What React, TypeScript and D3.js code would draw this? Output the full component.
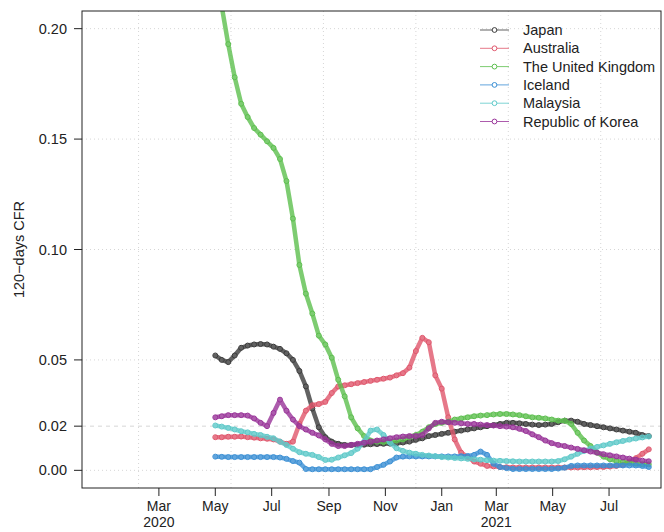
import * as d3 from 'd3';

// weekly readings, starting 1 May 2020
const START = new Date(2020, 4, 1);
const weeks = d3.range(68).map((i) => d3.timeDay.offset(START, 7 * i));

const japan = [
  0.052, 0.05, 0.049, 0.052, 0.0555, 0.0565, 0.057, 0.0572, 0.057, 0.056,
  0.055, 0.053, 0.05, 0.045, 0.038, 0.028, 0.0195, 0.015, 0.013, 0.012,
  0.0115, 0.0115, 0.0115, 0.0116, 0.0118, 0.0119, 0.012, 0.0121, 0.0122, 0.0126,
  0.013, 0.0138, 0.0145, 0.0155, 0.016, 0.0165, 0.017, 0.0175, 0.018, 0.0185,
  0.019, 0.0195, 0.02, 0.0205, 0.021, 0.0215, 0.0215, 0.0213, 0.021, 0.0207,
  0.0205, 0.0207, 0.021, 0.0218, 0.0225, 0.0225, 0.022, 0.021, 0.0205, 0.02,
  0.0195, 0.019, 0.0185, 0.018, 0.0175, 0.017, 0.016, 0.0155,
];
const australia = [
  0.015, 0.015, 0.0152, 0.0152, 0.0153, 0.015, 0.0148, 0.0145, 0.0143, 0.014,
  0.013, 0.012, 0.013, 0.021, 0.027, 0.0295, 0.03, 0.031, 0.035, 0.038,
  0.0385, 0.039, 0.0395, 0.04, 0.0405, 0.041, 0.0415, 0.042, 0.043, 0.044,
  0.0465, 0.054, 0.06, 0.058, 0.043, 0.037, 0.024, 0.014, 0.008, 0.006,
  0.004, 0.003, 0.002, 0.0018, 0.0015, 0.0014, 0.0013, 0.0013, 0.0013, 0.0013,
  0.0013, 0.0013, 0.0013, 0.0013, 0.0013, 0.0013, 0.0013, 0.0014, 0.0014, 0.0015,
  0.0015, 0.0017, 0.002, 0.0025, 0.004, 0.0055, 0.0075, 0.0095,
];
const unitedKingdom = [
  0.225, 0.21, 0.193, 0.178, 0.166, 0.16, 0.155, 0.152, 0.149, 0.146,
  0.141, 0.131, 0.114, 0.093, 0.08, 0.071, 0.061, 0.057, 0.051, 0.041,
  0.0335, 0.024, 0.019, 0.0155, 0.0135, 0.013, 0.0128, 0.013, 0.0135, 0.014,
  0.015, 0.016, 0.0175, 0.0195, 0.021, 0.0215, 0.022, 0.023, 0.0235, 0.024,
  0.0245, 0.0248, 0.025, 0.0253, 0.0255, 0.0255, 0.0253, 0.025, 0.0245, 0.024,
  0.0238, 0.0235, 0.023, 0.0225, 0.0225, 0.021, 0.017, 0.0135, 0.011, 0.008,
  0.0062, 0.005, 0.0042, 0.0038, 0.0033, 0.003, 0.0028, 0.0027,
];
const iceland = [
  0.0062, 0.0061, 0.006, 0.006, 0.006, 0.006, 0.006, 0.006, 0.006, 0.006,
  0.0058, 0.0052, 0.0042, 0.0035, 0.0006, 0.0005, 0.0005, 0.0005, 0.0005, 0.0005,
  0.0005, 0.0005, 0.0005, 0.0005, 0.0005, 0.0015, 0.0025, 0.004, 0.0058, 0.0062,
  0.0063, 0.0063, 0.0063, 0.0063, 0.0063, 0.0063, 0.0063, 0.0063, 0.0064, 0.0065,
  0.007, 0.0085, 0.007, 0.003, 0.0015, 0.001, 0.0006, 0.0006, 0.0006, 0.0006,
  0.0006, 0.0006, 0.0006, 0.0008, 0.0012, 0.002, 0.0022, 0.0022, 0.0022, 0.0022,
  0.0022, 0.0022, 0.0022, 0.0022, 0.0022, 0.0022, 0.002, 0.0015,
];
const malaysia = [
  0.0203, 0.0198, 0.0192, 0.0185, 0.0177, 0.0172, 0.0165, 0.016, 0.0152, 0.0145,
  0.013, 0.0115, 0.0098, 0.0082, 0.0075, 0.007, 0.006, 0.0047, 0.0048, 0.0058,
  0.0068, 0.0078, 0.0098, 0.013, 0.018, 0.0185, 0.016, 0.0125, 0.01, 0.0088,
  0.008, 0.0075, 0.007, 0.0067, 0.0064, 0.006, 0.0058, 0.0056, 0.0054, 0.0052,
  0.005, 0.0048, 0.0046, 0.0044, 0.0043, 0.0042, 0.0041, 0.004, 0.004, 0.004,
  0.004, 0.004, 0.004, 0.0042, 0.005, 0.0062, 0.0075, 0.0088, 0.0098, 0.0106,
  0.0113, 0.012, 0.0127, 0.0133, 0.0139, 0.0144, 0.0149, 0.0153,
];
const korea = [
  0.024, 0.0245, 0.025, 0.025, 0.025, 0.0248, 0.0235, 0.0215, 0.02, 0.026,
  0.032, 0.027, 0.023, 0.02, 0.0185, 0.017, 0.0158, 0.014, 0.012, 0.011,
  0.011, 0.0115, 0.012, 0.0125, 0.013, 0.0135, 0.014, 0.0145, 0.015, 0.0153,
  0.0155, 0.0155, 0.016, 0.019, 0.0215, 0.022, 0.0218, 0.0215, 0.0213, 0.021,
  0.021, 0.0207, 0.0205, 0.0203, 0.02, 0.0198, 0.0195, 0.0188, 0.0178, 0.0163,
  0.015, 0.0135, 0.0123, 0.0115, 0.011, 0.0103, 0.0097, 0.0091, 0.0085, 0.008,
  0.0073, 0.0068, 0.0063, 0.0058, 0.0053, 0.0048, 0.0044, 0.0041,
];

const countries = ['Japan', 'Australia', 'The United Kingdom', 'Iceland', 'Malaysia', 'Republic of Korea'];
const seriesValues = [japan, australia, unitedKingdom, iceland, malaysia, korea];
const colors = ['#3b3b3b', '#e0566c', '#5cbf4e', '#3a8fd4', '#5ec9c9', '#993399'];

const xTickDates = [
  new Date(2020, 2, 1), new Date(2020, 4, 1), new Date(2020, 6, 1), new Date(2020, 8, 1),
  new Date(2020, 10, 1), new Date(2021, 0, 1), new Date(2021, 2, 1), new Date(2021, 4, 1),
  new Date(2021, 6, 1),
];
const xTickLabels = [['Mar', '2020'], ['May'], ['Jul'], ['Sep'], ['Nov'], ['Jan'], ['Mar', '2021'], ['May'], ['Jul']];
const yTicks = [0, 0.02, 0.05, 0.1, 0.15, 0.2];
const yTickLabels = ['0.00', '0.02', '0.05', '0.10', '0.15', '0.20'];
const yGrid = [0, 0.05, 0.1, 0.15, 0.2];
// R's grid() falls on pretty day numbers since 1970
const xGridDays = [18300, 18400, 18500, 18600, 18700, 18800];

const W = 664;
const H = 532;
const left = 82;
const right = 661;
const top = 11;
const bottom = 488;
const font = '"Liberation Sans", Arial, Helvetica, sans-serif';

export default function App() {
  const lo = +new Date(2020, 0, 1);
  const hi = +new Date(2021, 7, 3);
  const xPad = (hi - lo) * 0.04;
  const x = d3.scaleTime().domain([new Date(lo - xPad), new Date(hi + xPad)]).range([left, right]);
  const y = d3.scaleLinear().domain([-0.008, 0.208]).range([bottom, top]);

  const line = d3
    .line<number>()
    .x((_, i) => x(weeks[i]))
    .y((v) => y(v));

  return (
    <svg width={W} height={H} style={{ position: 'absolute', left: 0, top: 0, background: '#fff' }} fontFamily={font}>
      <defs>
        <clipPath id="plot">
          <rect x={left} y={top} width={right - left} height={bottom - top} />
        </clipPath>
      </defs>

      {/* grid */}
      <g stroke="#d6d6d6" strokeWidth={1}>
        {xGridDays.map((d) => {
          const gx = x(new Date(d * 86400000));
          return <line key={d} x1={gx} x2={gx} y1={top} y2={bottom} strokeDasharray="1,3" />;
        })}
        {yGrid.map((v) => (
          <line key={v} x1={left} x2={right} y1={y(v)} y2={y(v)} strokeDasharray="1,3" />
        ))}
        <line x1={left} x2={right} y1={y(0.02)} y2={y(0.02)} strokeDasharray="4,4" />
      </g>

      {/* series: dense daily circles read as a thick band */}
      <g clipPath="url(#plot)">
        {seriesValues.map((vals, s) => (
          <g key={countries[s]} stroke={colors[s]} fill="none">
            <path
              d={line(vals) ?? ''}
              strokeWidth={4.5}
              strokeOpacity={0.8}
              strokeLinejoin="round"
              strokeLinecap="round"
            />
            {vals.map((v, i) => (
              <circle key={i} cx={x(weeks[i])} cy={y(v)} r={2.5} strokeWidth={1} />
            ))}
          </g>
        ))}
      </g>

      {/* box */}
      <rect x={left} y={top} width={right - left} height={bottom - top} fill="none" stroke="#222" strokeWidth={1} />

      {/* y axis */}
      <g fontSize={14.5} fill="#222">
        {yTicks.map((v, i) => (
          <g key={v}>
            <line x1={left - 8} x2={left} y1={y(v)} y2={y(v)} stroke="#222" />
            <text x={left - 15} y={y(v)} textAnchor="end" dominantBaseline="central">
              {yTickLabels[i]}
            </text>
          </g>
        ))}
        <text
          transform={`translate(19, ${(top + bottom) / 2}) rotate(-90)`}
          textAnchor="middle"
          dominantBaseline="central"
        >
          120−days CFR
        </text>
      </g>

      {/* x axis */}
      <g fontSize={14} fill="#222">
        {xTickDates.map((d, i) => {
          const tx = x(d);
          return (
            <g key={i}>
              <line x1={tx} x2={tx} y1={bottom} y2={bottom + 8} stroke="#222" />
              {xTickLabels[i].map((lab, j) => (
                <text key={j} x={tx} y={bottom + 23 + j * 16} textAnchor="middle">
                  {lab}
                </text>
              ))}
            </g>
          );
        })}
      </g>

      {/* legend */}
      <g fontSize={14.5} fill="#222">
        {countries.map((c, i) => {
          const ly = 30 + i * 18.3;
          return (
            <g key={c}>
              <line x1={480} x2={509} y1={ly} y2={ly} stroke={colors[i]} strokeOpacity={0.8} />
              <circle cx={494.5} cy={ly} r={2.4} fill="#fff" stroke={colors[i]} />
              <text x={523} y={ly} dominantBaseline="central">
                {c}
              </text>
            </g>
          );
        })}
      </g>
    </svg>
  );
}
